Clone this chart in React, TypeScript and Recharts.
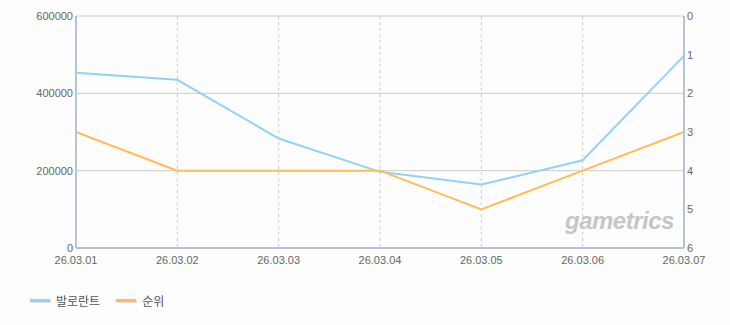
import { LineChart, Line, XAxis, YAxis, CartesianGrid, Legend } from 'recharts';

const dates = ['26.03.01', '26.03.02', '26.03.03', '26.03.04', '26.03.05', '26.03.06', '26.03.07'];
const players = [453000, 435000, 283000, 197000, 164000, 227000, 497000];
const ranks = [3, 4, 4, 4, 5, 4, 3];
const leftTicks = [0, 200000, 400000, 600000];
const rightTicks = [0, 1, 2, 3, 4, 5, 6];

const data = dates.map((d, i) => ({ date: d, players: players[i], rank: ranks[i] }));

const BLUE = '#94d2f2';
const ORANGE = '#ffbd59';
const BORDER = '#b3c4d6';
const tickStyle = { fontSize: 11, fill: '#666', fontFamily: 'Liberation Sans, Arial, sans-serif' };

const LegendContent = () => (
  <div style={{ display: 'flex', alignItems: 'center', fontFamily: '"Noto Sans CJK KR", sans-serif', fontSize: 12, color: '#555' }}>
    {[
      { name: '발로란트', color: BLUE },
      { name: '순위', color: ORANGE },
    ].map((item) => (
      <div key={item.name} style={{ display: 'flex', alignItems: 'center', marginRight: 16 }}>
        <span style={{ display: 'inline-block', width: 20, height: 3, background: item.color, boxShadow: '1px 1px 0 #ddd', marginRight: 6 }} />
        <span>{item.name}</span>
      </div>
    ))}
  </div>
);

export default function App() {
  return (
    <div style={{ position: 'absolute', left: 0, top: 0, width: 730, height: 325, background: '#fdfdfd' }}>
      <LineChart width={730} height={325} data={data} margin={{ top: 16, right: 16, bottom: 40, left: 6 }}>
        <CartesianGrid yAxisId="left" vertical={false} stroke="#cccccc" />
        <CartesianGrid yAxisId="left" horizontal={false} stroke="#cccccc" strokeDasharray="3 3" />
        <XAxis dataKey="date" tick={tickStyle} tickLine={false} tickSize={0} axisLine={{ stroke: BORDER, strokeWidth: 2 }} height={20} tickMargin={8} interval={0} />
        <XAxis xAxisId="top" orientation="top" dataKey="date" tick={false} tickLine={false} axisLine={{ stroke: BORDER, strokeWidth: 2 }} height={0} />
        <YAxis yAxisId="left" domain={[0, 600000]} ticks={leftTicks} tick={tickStyle} tickLine={false} tickSize={0} axisLine={{ stroke: BORDER, strokeWidth: 2 }} width={70} tickMargin={3} />
        <YAxis yAxisId="right" orientation="right" reversed domain={[0, 6]} ticks={rightTicks} tick={tickStyle} tickLine={false} tickSize={0} axisLine={{ stroke: BORDER, strokeWidth: 2 }} width={30} tickMargin={3} />
        <Legend verticalAlign="bottom" align="left" content={<LegendContent />} wrapperStyle={{ left: 30, bottom: 16 }} />
        <Line yAxisId="left" dataKey="players" name="발로란트" stroke={BLUE} strokeWidth={2} dot={false} isAnimationActive={false} />
        <Line yAxisId="right" dataKey="rank" name="순위" stroke={ORANGE} strokeWidth={2} dot={false} isAnimationActive={false} />
      </LineChart>
      <div style={{ position: 'absolute', left: 565, top: 207, fontFamily: 'Liberation Sans, Arial, sans-serif', fontWeight: 'bold', fontStyle: 'italic', fontSize: 24, color: '#c6c6c6', letterSpacing: -0.5, pointerEvents: 'none' }}>
        gametrics
      </div>
    </div>
  );
}
